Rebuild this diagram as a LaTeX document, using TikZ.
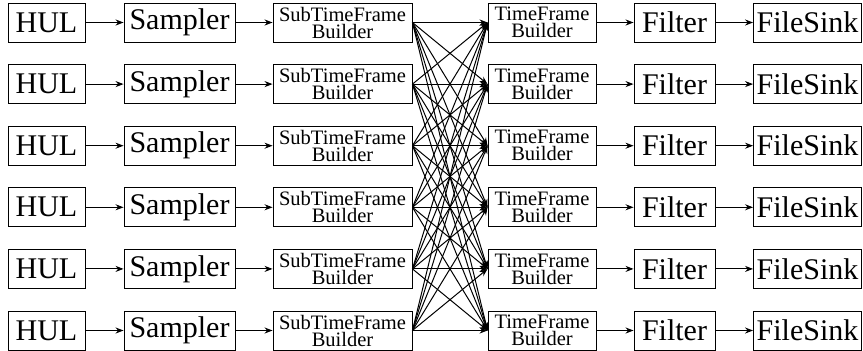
\documentclass[tikz,border=0pt]{standalone}
\usepackage{fontspec}
\setmainfont{Liberation Serif}
\usetikzlibrary{arrows.meta}
\begin{document}
\begin{tikzpicture}[x=1pt,y=-1pt,
  box/.style={draw, line width=0.9pt, minimum height=39pt, inner sep=0pt, anchor=center},
  big/.style={box, font=\fontsize{30}{30}\selectfont},
  small/.style={box, font=\fontsize{20.5}{17}\selectfont, align=center},
  arr/.style={-{Stealth[length=8pt,width=6pt]}, line width=1pt}]
\useasboundingbox (0,0) rectangle (863,351);
\foreach \i in {0,...,5} {
  \pgfmathsetmacro\yy{22.5+61.6*\i}
  \node[big, minimum width=77pt] (h\i) at (46.5,\yy) {HUL};
  \node[big, minimum width=111pt] (s\i) at (179.5,\yy) {Sampler};
  \node[small, minimum width=139pt] (st\i) at (342.5,\yy) {SubTimeFrame\\Builder};
  \node[small, minimum width=108pt] (t\i) at (542,\yy) {TimeFrame\\Builder};
  \node[big, minimum width=81pt] (f\i) at (674.5,\yy) {Filter};
  \node[big, minimum width=108pt] (k\i) at (807.5,\yy) {FileSink};
}
\foreach \i in {0,...,5} {
  \draw[arr] (h\i) -- (s\i);
  \draw[arr] (s\i) -- (st\i);
  \draw[arr] (t\i) -- (f\i);
  \draw[arr] (f\i) -- (k\i);
  \foreach \j in {0,...,5} {
    \draw[arr] (st\i.east) -- (t\j.west);
  }
}
\end{tikzpicture}
\end{document}
